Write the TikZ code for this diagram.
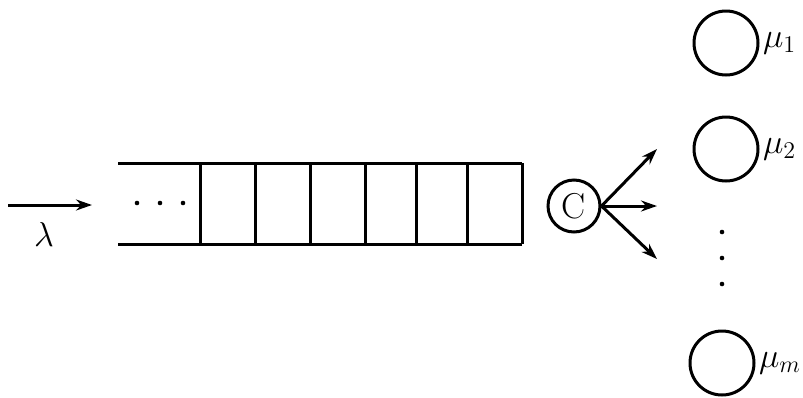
\documentclass[tikz,border=0pt]{standalone}
\usepackage{amsmath,amssymb}
\usepackage{tikz}
\usetikzlibrary{arrows.meta,positioning}

\begin{document}
\begin{tikzpicture}[x=0.5pt,y=-0.5pt,>={Stealth[length=8pt,width=5.5pt]},
          line width=1.5pt,
          every node/.style={font=\fontsize{18}{21}\selectfont},
          server/.style={draw,circle,minimum size=32pt,inner sep=0pt}]
        \useasboundingbox (0,0) rectangle (803,397);
        % arrivals
        \coordinate (arrS) at (8,205);
        \coordinate (arrE) at (92,205);
        \draw[->] (arrS) -- (arrE);
        \node (lam) at (44,234) {$\lambda$};
        % waiting line
        \draw (118,163) -- (522,163);
        \draw (118,244) -- (522,244);
        \foreach \x in {200,255,310,365,416,467,522} {
          \draw (\x,163) -- (\x,244);
        }
        \foreach \x in {137,160,183}
          \fill (\x,203) circle (2.3);
        % dispatcher
        \node[draw,circle,minimum size=26pt,inner sep=0pt] (disp) at (574,206) {C};
        \coordinate (outA) at (657,149);
        \coordinate (outB) at (657,206);
        \coordinate (outC) at (657,259);
        \foreach \o in {outA,outB,outC}
          \draw[->] (disp.east) -- (\o);
        % servers
        \node[server] (srv1) at (726,43) {};
        \node[server] (srv2) at (726,149) {};
        \node[server] (srvm) at (722,363) {};
        \node[anchor=west,inner sep=1pt] (mu1) at (srv1.east) {$\mu_1$};
        \node[anchor=west,inner sep=1pt] (mu2) at (srv2.east) {$\mu_2$};
        \node[anchor=west,inner sep=1pt] (mum) at (srvm.east) {$\mu_m$};
        \foreach \y in {232,258,284}
          \fill (722,\y) circle (2.3);
\end{tikzpicture}
\end{document}
